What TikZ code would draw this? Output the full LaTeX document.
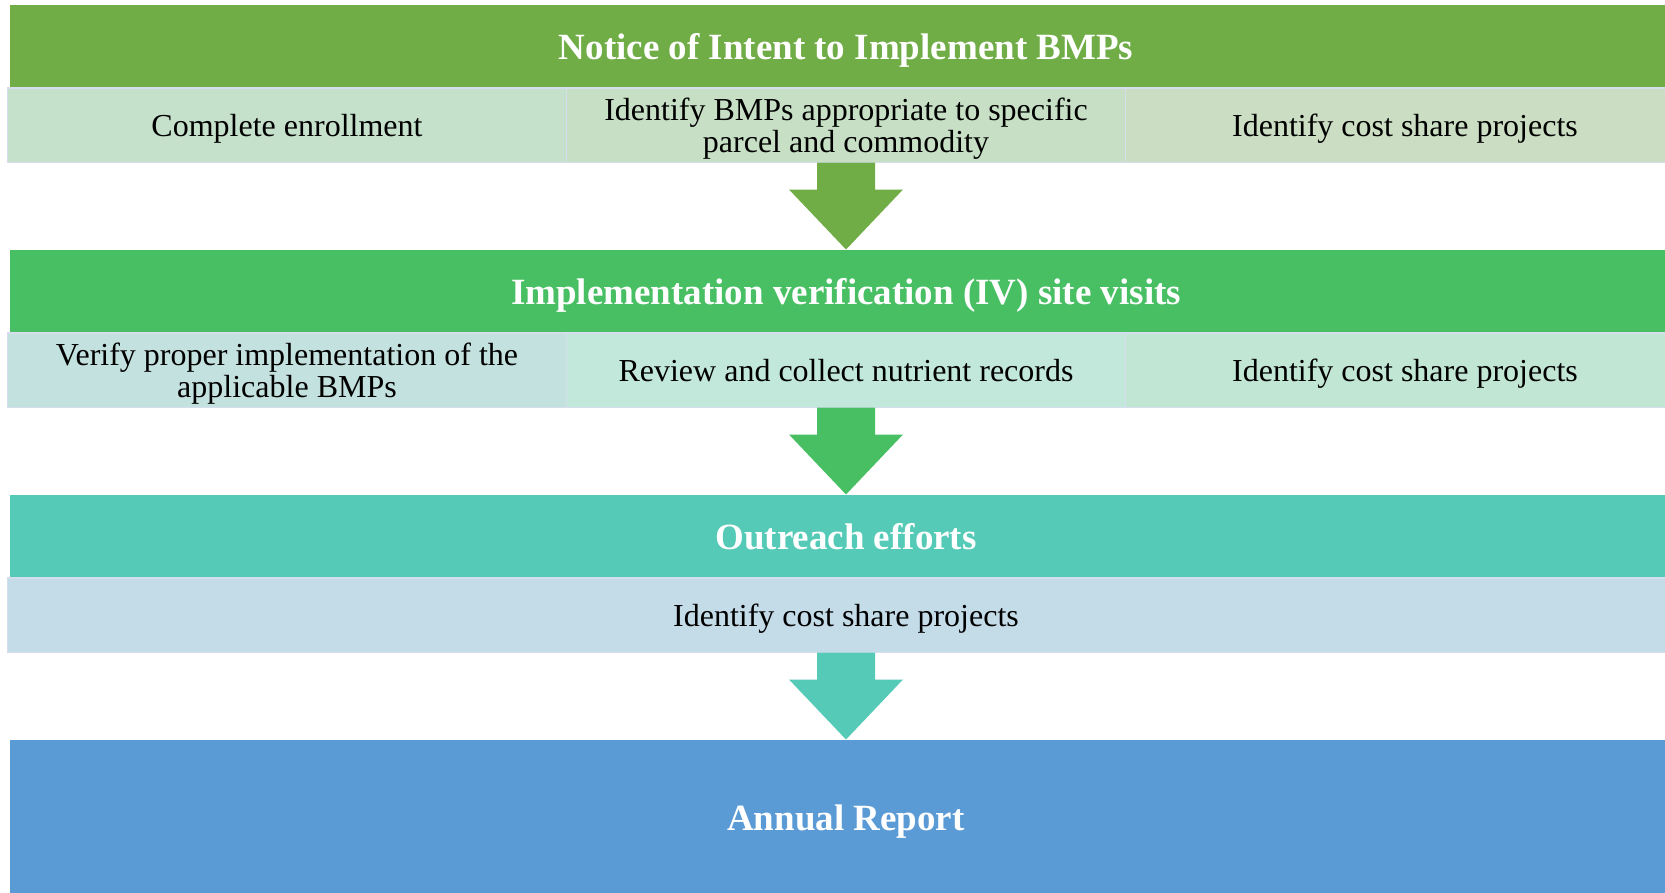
\documentclass[tikz,border=0pt]{standalone}
\usepackage{fontspec}
\setmainfont{Liberation Serif}
\usepackage{xcolor}
\usepackage{tikz}
\usetikzlibrary{positioning, calc}
\definecolor{nmGreen}{RGB}{112, 173, 71}
\definecolor{nmLeaf}{RGB}{73, 191, 100}
\definecolor{nmTeal}{RGB}{84, 202, 183}
\definecolor{nmBlue}{RGB}{91, 155, 213}
\definecolor{nmPaleA}{RGB}{197, 224, 203}
\definecolor{nmPaleB}{RGB}{199, 224, 197}
\definecolor{nmPaleC}{RGB}{203, 221, 194}
\definecolor{nmMintA}{RGB}{195, 225, 222}
\definecolor{nmMintB}{RGB}{194, 231, 219}
\definecolor{nmMintC}{RGB}{194, 230, 212}
\definecolor{nmSky}{RGB}{196, 219, 232}
\definecolor{nmEdge}{RGB}{214, 222, 238}
\tikzset{
    base/.style={
        align=center,
        inner sep=0pt,
        outer sep=0pt,
        text depth=0pt
    },
    banner/.style={
        base,
        rectangle,
        fill=#1,
        text=white,
        font=\fontsize{37}{40}\selectfont\bfseries,
        minimum width=1673pt,
        minimum height=83.5pt
    },
    task/.style={
        base,
        rectangle,
        fill=#1,
        draw=nmEdge,
        line width=1.5pt,
        text=black,
        font=\fontsize{32}{32}\selectfont,
        minimum width=559pt,
        minimum height=74.5pt
    }
}
\begin{document}
\begin{tikzpicture}[x=1pt, y=-1pt]
  \useasboundingbox (0,0) rectangle (1665,892);

  % Notice of intent
  \node[banner=nmGreen, anchor=north west] (hdrA) at (9.5,4.5) {Notice of Intent to Implement BMPs};
  \node[task=nmPaleA, anchor=north west] (cellA1) at ([xshift=-2pt]hdrA.south west) {Complete enrollment};
  \node[task=nmPaleB, right=0pt of cellA1] (cellA2) {Identify BMPs appropriate to specific\\parcel and commodity};
  \node[task=nmPaleC, right=0pt of cellA2] (cellA3) {Identify cost share projects};

  % Site visits
  \node[banner=nmLeaf, below=87pt of cellA2] (hdrB) {Implementation verification (IV) site visits};
  \node[task=nmMintA, anchor=north west] (cellB1) at ([xshift=-2pt]hdrB.south west) {Verify proper implementation of the\\applicable BMPs};
  \node[task=nmMintB, right=0pt of cellB1] (cellB2) {Review and collect nutrient records};
  \node[task=nmMintC, right=0pt of cellB2] (cellB3) {Identify cost share projects};

  % Outreach
  \node[banner=nmTeal, below=87pt of cellB2] (hdrC) {Outreach efforts};
  \node[task=nmSky, minimum width=1677pt, below=0pt of hdrC] (cellC) {Identify cost share projects};

  % Report
  \node[banner=nmBlue, minimum height=157pt, below=87pt of cellC] (hdrD) {Annual Report};

  % Arrows
  \fill[nmGreen] ($(cellA2.south)+(-29,0)$) -- ($(hdrB.north)+(-29,-60)$) -- ($(hdrB.north)+(-57,-60)$) -- (hdrB.north)
    -- ($(hdrB.north)+(57,-60)$) -- ($(hdrB.north)+(29,-60)$) -- ($(cellA2.south)+(29,0)$) -- cycle;
  \fill[nmLeaf] ($(cellB2.south)+(-29,0)$) -- ($(hdrC.north)+(-29,-60)$) -- ($(hdrC.north)+(-57,-60)$) -- (hdrC.north)
    -- ($(hdrC.north)+(57,-60)$) -- ($(hdrC.north)+(29,-60)$) -- ($(cellB2.south)+(29,0)$) -- cycle;
  \fill[nmTeal] ($(cellC.south)+(-29,0)$) -- ($(hdrD.north)+(-29,-60)$) -- ($(hdrD.north)+(-57,-60)$) -- (hdrD.north)
    -- ($(hdrD.north)+(57,-60)$) -- ($(hdrD.north)+(29,-60)$) -- ($(cellC.south)+(29,0)$) -- cycle;
\end{tikzpicture}
\end{document}
